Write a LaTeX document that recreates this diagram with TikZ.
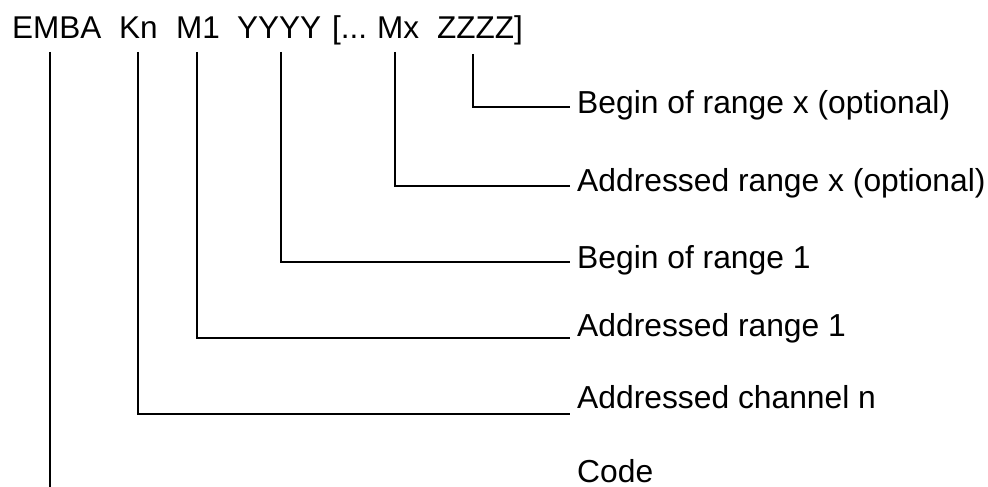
\documentclass[tikz,border=0pt]{standalone}
\usepackage{fontspec}
\setmainfont{Liberation Sans}
\begin{document}
\begin{tikzpicture}[x=1pt,y=-1pt,
  tok/.style={anchor=base west, inner sep=0pt, font=\fontsize{31.5}{36}\selectfont},
  lbl/.style={anchor=base west, inner sep=0pt, font=\fontsize{31.8}{36}\selectfont},
  conn/.style={line width=1.3pt, black}]
\useasboundingbox (0,0) rectangle (988,487);
% header tokens
\node[tok] (emba) at (12,39) {EMBA};
\node[tok] (kn)   at (119,39) {Kn};
\node[tok] (m1)   at (176,39) {M1};
\node[tok] (yy)   at (237,39) {YYYY};
\node[tok] (br)   at (332,39) {[...};
\node[tok] (mx)   at (377,39) {Mx};
\node[tok] (zz)   at (437,39) {ZZZZ]};
% labels
\node[lbl] (lzz) at (577,113) {Begin of range x (optional)};
\node[lbl] (lmx) at (577,191) {Addressed range x (optional)};
\node[lbl] (lyy) at (577,268) {Begin of range 1};
\node[lbl] (lm1) at (577,336) {Addressed range 1};
\node[lbl] (lkn) at (577,408) {Addressed channel n};
\node[lbl] (lco) at (577,482) {Code};
% connector end points
\coordinate (tE)  at (50,52);   \coordinate (bE)  at (50,487);
\coordinate (tK)  at (138,52);  \coordinate (eK)  at (570,414);
\coordinate (tM)  at (197,52);  \coordinate (eM)  at (570,338);
\coordinate (tY)  at (281,52);  \coordinate (eY)  at (570,262);
\coordinate (tX)  at (395,52);  \coordinate (eX)  at (570,186);
\coordinate (tZ)  at (473,54);  \coordinate (eZ)  at (570,107);
% connectors
\draw[conn] (tE) -- (bE);
\draw[conn] (tK) |- (eK);
\draw[conn] (tM) |- (eM);
\draw[conn] (tY) |- (eY);
\draw[conn] (tX) |- (eX);
\draw[conn] (tZ) |- (eZ);
\end{tikzpicture}
\end{document}
